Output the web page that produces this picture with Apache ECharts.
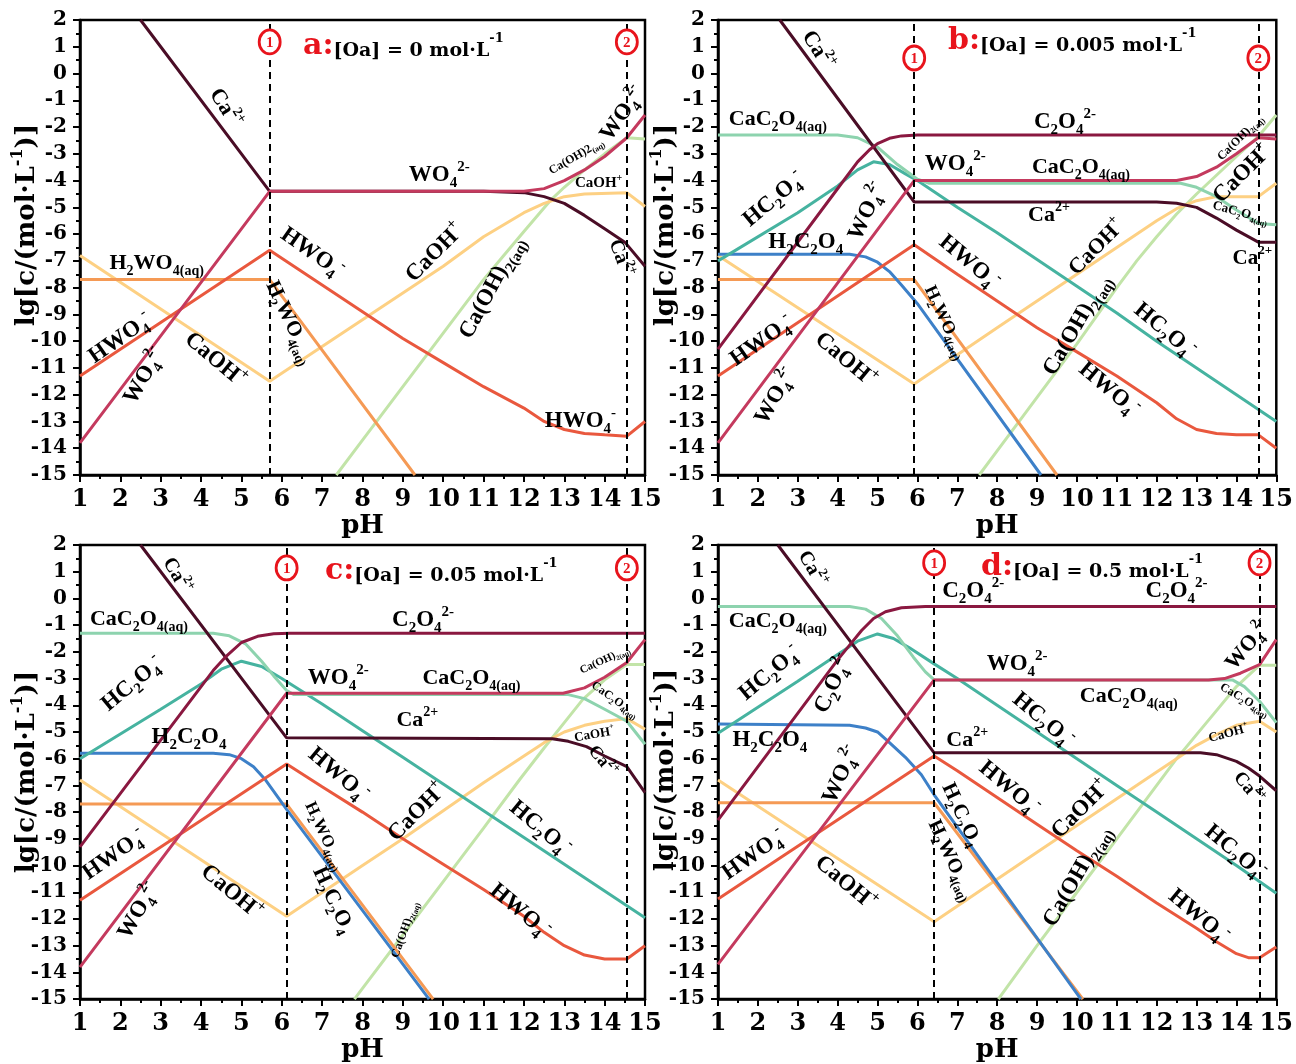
<!DOCTYPE html>
<html><head><meta charset="utf-8">
<script src="https://cdn.jsdelivr.net/npm/echarts@6/dist/echarts.min.js"></script>
<style>html,body{margin:0;padding:0;background:#fff}#c{width:1296px;height:1064px}</style>
</head><body><div id="c"></div>
<script>
const SERIF = '"Liberation Serif","Times New Roman",serif';
const WIDE = '"DejaVu Serif","Liberation Serif",serif';
const colors = {Ca:'#4a0d26', C2O4:'#8a1840', WO4:'#c43a5e', HWO4:'#e9583e', H2WO4:'#f59a55',
  CaOH:'#fdd083', CaOH2:'#c2e4a8', CaC2O4:'#8dd3ae', HC2O4:'#46b3a0', H2C2O4:'#3d80c8'};

// ---------- Panel a: [Oa] = 0 ----------
const a_dash = [5.7, 14.55];
const a_Ca = [[2.5,2],[5.7,-4.4],[11,-4.4],[12,-4.45],[12.5,-4.6],[13,-4.85],[13.5,-5.3],[14,-5.8],[14.5,-6.3],[15,-7.2]];
const a_WO4 = [[1,-13.8],[5.7,-4.4],[12,-4.4],[12.5,-4.3],[13,-4.0],[13.5,-3.6],[14,-3.1],[14.55,-2.4],[15,-1.55]];
const a_HWO4 = [[1,-11.3],[5.7,-6.6],[7,-7.9],[8,-8.9],[9,-9.9],[10,-10.8],[11,-11.7],[12,-12.5],[12.5,-13.0],[13,-13.3],[13.5,-13.45],[14,-13.5],[14.55,-13.55],[15,-13.0]];
const a_H2WO4 = [[1,-7.7],[5.7,-7.7],[9.3,-15]];
const a_CaOH = [[1,-6.8],[5.7,-11.5],[8,-9.2],[10,-7.2],[11,-6.1],[12,-5.2],[12.5,-4.85],[13,-4.6],[13.5,-4.5],[14.55,-4.45],[15,-4.97]];
const a_CaOH2 = [[7.35,-15],[8,-13.7],[9,-11.7],[10,-9.7],[11,-7.7],[11.5,-6.8],[12,-5.9],[12.65,-4.75],[13,-4.25],[13.5,-3.6],[14,-3.0],[14.55,-2.4],[15,-2.45]];
const a_labels = [
 [4.6,-1.3,'Ca^{2+}',-58,22],
 [14.45,-1.5,'WO_4^{2-}',55,23],
 [13.3,-3.1,'Ca(OH)2_{(aq)}',30,12],
 [13.85,-4.1,'CaOH^+',0,15],
 [9.9,-3.8,'WO_4^{2-}',0,23],
 [14.4,-6.9,'Ca^{2+}',-70,20],
 [6.75,-6.7,'HWO_4^-',-35,23],
 [9.8,-6.7,'CaOH^+',45,23],
 [11.2,-8.0,'Ca(OH)_{2(aq)}',62,23],
 [2.9,-7.1,'H_2WO_{4(aq)}',0,22],
 [6.2,-9.3,'H_2WO_{4(aq)}',-65,21],
 [2.0,-9.9,'HWO_4^-',35,23],
 [4.35,-10.7,'CaOH^+',-40,23],
 [2.6,-11.3,'WO_4^{2-}',60,23],
 [13.4,-13.0,'HWO_4^-',0,23]
];

// ---------- Panel b: [Oa] = 0.005 ----------
const b_dash = [5.92, 14.55];
const b_Ca = [[2.55,2],[5.92,-4.8],[12,-4.8],[12.5,-4.85],[13,-5.0],[13.5,-5.4],[14,-5.85],[14.55,-6.3],[15,-6.3]];
const b_C2O4 = [[1,-10.3],[4.1,-4.1],[4.5,-3.3],[4.8,-2.85],[5.0,-2.62],[5.3,-2.42],[5.6,-2.33],[6,-2.3],[15,-2.3]];
const b_WO4 = [[1,-13.8],[5.92,-4.0],[12.5,-4.0],[13,-3.85],[13.5,-3.5],[14,-3.0],[14.55,-2.4],[15,-2.45]];
const b_CaC2O4 = [[1,-2.3],[4.0,-2.3],[4.5,-2.4],[5,-2.75],[5.5,-3.4],[6,-3.95],[6.3,-4.1],[12.6,-4.1],[13,-4.25],[13.5,-4.6],[14,-5.1],[14.55,-5.6],[15,-5.65]];
const b_HC2O4 = [[1,-7.0],[3,-5.2],[4,-4.2],[4.5,-3.6],[4.9,-3.3],[5.3,-3.4],[5.7,-3.75],[6,-4.0],[7,-5.0],[8,-5.95],[9,-6.95],[10,-7.95],[11,-8.95],[12,-10.0],[13,-11.0],[14,-12.0],[15,-13.0]];
const b_H2C2O4 = [[1,-6.75],[4.3,-6.75],[4.7,-6.85],[5,-7.05],[5.3,-7.4],[5.6,-7.9],[6,-8.6],[9.1,-15]];
const b_H2WO4 = [[1,-7.7],[5.92,-7.7],[9.5,-15]];
const b_HWO4 = [[1,-11.3],[5.92,-6.4],[7,-7.5],[8,-8.5],[9,-9.5],[10,-10.4],[11,-11.3],[12,-12.3],[12.5,-12.9],[13,-13.3],[13.5,-13.45],[14,-13.5],[14.55,-13.5],[15,-14.0]];
const b_CaOH = [[1,-6.8],[5.92,-11.6],[8,-9.5],[10,-7.5],[11,-6.5],[12,-5.5],[12.5,-5.05],[13,-4.75],[13.5,-4.6],[14.55,-4.6],[15,-4.1]];
const b_CaOH2 = [[7.55,-15],[8,-14.1],[9,-12.1],[10,-10.1],[11,-8.0],[11.5,-7.0],[12,-6.1],[12.5,-5.25],[13,-4.5],[13.5,-3.8],[14,-3.1],[14.55,-2.35],[15,-1.55]];
const b_labels = [
 [3.5,0.86,'Ca^{2+}',-58,22],
 [2.5,-1.7,'CaC_2O_{4(aq)}',0,22],
 [9.7,-1.8,'C_2O_4^{2-}',0,23],
 [6.95,-3.4,'WO_4^{2-}',0,23],
 [10.1,-3.5,'CaC_2O_{4(aq)}',0,22],
 [14.1,-2.4,'Ca(OH)_{2(aq)}',45,12],
 [14.15,-3.75,'CaOH^+',45,23],
 [14.1,-5.2,'CaC_2O_{4(aq)}',-15,13],
 [14.4,-6.9,'Ca^{2+}',0,21],
 [9.3,-5.3,'Ca^{2+}',0,22],
 [10.5,-6.5,'CaOH^+',45,22],
 [2.4,-4.7,'HC_2O_4^-',40,23],
 [4.75,-5.15,'WO_4^{2-}',65,23],
 [3.2,-6.3,'H_2C_2O_4',0,23],
 [7.3,-7.05,'HWO_4^-',-40,23],
 [6.7,-9.3,'H_2WO_{4(aq)}',-65,18],
 [12.2,-9.6,'HC_2O_4^-',-40,23],
 [10.0,-9.4,'Ca(OH)_{2(aq)}',60,23],
 [2.1,-10.0,'HWO_4^-',35,23],
 [4.2,-10.7,'CaOH^+',-40,23],
 [2.45,-12.05,'WO_4^{2-}',60,23],
 [10.8,-11.8,'HWO_4^-',-40,23]
];

// ---------- Panel c: [Oa] = 0.05 ----------
const c_dash = [6.12, 14.55];
const c_Ca = [[2.5,2],[6.12,-5.22],[12.7,-5.25],[13.1,-5.35],[13.55,-5.55],[14,-5.9],[14.55,-6.3],[15,-7.27]];
const c_C2O4 = [[1,-9.3],[4.3,-2.7],[4.6,-2.2],[5.0,-1.65],[5.4,-1.42],[5.8,-1.32],[6.2,-1.3],[15,-1.3]];
const c_WO4 = [[1,-13.8],[6.12,-3.55],[12.97,-3.55],[13.5,-3.35],[14,-2.95],[14.55,-2.4],[15,-1.54]];
const c_CaC2O4 = [[1,-1.3],[4.3,-1.3],[4.7,-1.4],[5.1,-1.7],[5.5,-2.35],[5.8,-2.9],[6.12,-3.45],[6.3,-3.6],[13.1,-3.6],[13.5,-3.75],[14,-4.15],[14.55,-4.6],[15,-5.46]];
const c_HC2O4 = [[1,-6.0],[3,-4.15],[4,-3.2],[4.5,-2.65],[5,-2.35],[5.5,-2.55],[6,-3.0],[7,-3.95],[8,-4.95],[9,-5.95],[10,-6.95],[11,-7.95],[12,-8.95],[13,-9.95],[14,-10.95],[15,-11.95]];
const c_H2C2O4 = [[1,-5.8],[4.3,-5.8],[4.7,-5.85],[5,-6.0],[5.3,-6.3],[5.6,-6.8],[6.12,-7.9],[9.65,-15]];
const c_H2WO4 = [[1,-7.7],[6.12,-7.7],[9.75,-15]];
const c_HWO4 = [[1,-11.3],[6.12,-6.2],[7,-7.05],[8,-8.0],[9,-9.0],[10,-9.95],[11,-10.9],[12,-11.9],[12.5,-12.5],[13,-13.0],[13.5,-13.35],[14,-13.5],[14.55,-13.5],[15,-13.0]];
const c_CaOH = [[1,-6.8],[6.12,-11.9],[8,-10.0],[9,-9.0],[10,-7.95],[11,-6.9],[12,-5.9],[12.5,-5.4],[13,-5.0],[13.5,-4.75],[14,-4.6],[14.55,-4.5],[15,-4.9]];
const c_CaOH2 = [[7.8,-15],[8,-14.6],[9,-12.6],[10,-10.6],[11,-8.6],[11.9,-6.77],[12.5,-5.6],[13,-4.65],[13.46,-3.78],[14,-3.05],[14.55,-2.47],[15,-2.47]];
const c_labels = [
 [3.4,0.85,'Ca^{2+}',-60,20],
 [2.46,-0.8,'CaC_2O_{4(aq)}',0,22],
 [9.5,-0.8,'C_2O_4^{2-}',0,23],
 [2.3,-3.2,'HC_2O_4^-',40,23],
 [7.4,-3.0,'WO_4^{2-}',0,23],
 [10.7,-3.0,'CaC_2O_{4(aq)}',0,22],
 [14.0,-2.3,'Ca(OH)_{2(aq)}',25,11],
 [14.25,-3.8,'CaC_2O_{4(aq)}',-35,12],
 [13.75,-5.1,'CaOH^+',10,13],
 [13.95,-6.1,'Ca^{2+}',-50,18],
 [9.36,-4.55,'Ca^{2+}',0,22],
 [3.7,-5.2,'H_2C_2O_4',0,23],
 [7.4,-6.6,'HWO_4^-',-40,23],
 [9.36,-8.0,'CaOH^+',45,23],
 [12.4,-8.6,'HC_2O_4^-',-40,23],
 [7.06,-8.9,'H_2WO_{4(aq)}',-65,17],
 [7.27,-11.3,'H_2C_2O_4',-65,22],
 [9.05,-12.4,'Ca(OH)_{2(aq)}',70,12],
 [1.85,-9.6,'HWO_4^-',35,23],
 [4.75,-11.0,'CaOH^+',-40,23],
 [2.46,-11.7,'WO_4^{2-}',60,23],
 [11.9,-11.7,'HWO_4^-',-40,23]
];

// ---------- Panel d: [Oa] = 0.5 ----------
const d_dash = [6.42, 14.58];
const d_Ca = [[2.5,2],[6.42,-5.78],[13.1,-5.78],[13.5,-5.85],[14,-6.1],[14.3,-6.35],[14.58,-6.65],[15,-7.2]];
const d_C2O4 = [[1,-8.3],[4.0,-2.3],[4.3,-1.75],[4.6,-1.2],[4.9,-0.75],[5.2,-0.5],[5.6,-0.35],[6.2,-0.3],[15,-0.3]];
const d_WO4 = [[1,-13.7],[6.42,-3.05],[13.3,-3.05],[13.7,-3.0],[14.1,-2.8],[14.58,-2.48],[15,-1.54]];
const d_CaC2O4 = [[1,-0.3],[4.3,-0.3],[4.7,-0.4],[5.1,-0.75],[5.5,-1.4],[5.9,-2.2],[6.2,-2.75],[6.42,-3.05],[13.9,-3.05],[14.2,-3.3],[14.58,-3.85],[15,-4.65]];
const d_HC2O4 = [[1,-5.05],[3,-3.1],[4,-2.1],[4.5,-1.6],[5,-1.33],[5.4,-1.5],[5.8,-1.85],[6.42,-2.45],[7,-3.0],[8,-4.0],[9,-5.0],[10,-6.0],[11,-7.0],[12,-8.0],[13,-9.0],[14,-10.0],[15,-11.04]];
const d_H2C2O4 = [[1,-4.7],[4.3,-4.75],[4.7,-4.85],[5.0,-5.0],[5.3,-5.4],[5.7,-5.95],[6.1,-6.6],[6.42,-7.35],[10.1,-15]];
const d_H2WO4 = [[1,-7.65],[6.42,-7.65],[10.15,-15]];
const d_HWO4 = [[1,-11.25],[6.42,-5.9],[7,-6.45],[8,-7.45],[9,-8.45],[10,-9.45],[11,-10.4],[12,-11.4],[13,-12.35],[13.5,-12.85],[14,-13.3],[14.3,-13.45],[14.58,-13.45],[15,-13.05]];
const d_CaOH = [[1,-6.8],[6.42,-12.1],[9,-9.5],[10,-8.5],[11,-7.5],[12,-6.5],[12.5,-6.0],[13,-5.5],[13.5,-5.1],[14,-4.75],[14.58,-4.6],[15,-5.0]];
const d_CaOH2 = [[8.03,-15],[9,-13],[10,-11],[11,-9],[12,-7],[12.5,-6],[13,-5.1],[13.5,-4.2],[14,-3.3],[14.58,-2.5],[15,-2.5]];
const d_labels = [
 [3.36,1.1,'Ca^{2+}',-60,20],
 [7.4,0.28,'C_2O_4^{2-}',0,23],
 [12.5,0.28,'C_2O_4^{2-}',0,23],
 [2.5,-0.86,'CaC_2O_{4(aq)}',0,22],
 [2.3,-2.8,'HC_2O_4^-',40,23],
 [3.9,-3.2,'C_2O_4^{2-}',65,23],
 [8.5,-2.45,'WO_4^{2-}',0,23],
 [11.3,-3.66,'CaC_2O_{4(aq)}',0,22],
 [14.3,-1.75,'WO_4^{2-}',50,22],
 [14.2,-3.8,'CaC_2O_{4(aq)}',-30,12],
 [13.8,-5.06,'CaOH^+',15,13],
 [14.3,-7.1,'Ca^{2+}',-50,19],
 [9.15,-4.55,'HC_2O_4^-',-40,23],
 [2.3,-5.3,'H_2C_2O_4',0,23],
 [7.25,-5.3,'Ca^{2+}',0,22],
 [4.1,-6.6,'WO_4^{2-}',65,23],
 [8.3,-7.1,'HWO_4^-',-40,23],
 [10.1,-7.9,'CaOH^+',45,23],
 [7.1,-8.1,'H_2C_2O_4',-65,21],
 [6.85,-9.8,'H_2WO_{4(aq)}',-65,20],
 [13.97,-9.5,'HC_2O_4^-',-40,23],
 [10.0,-10.4,'Ca(OH)_{2(aq)}',60,23],
 [1.9,-9.6,'HWO_4^-',35,23],
 [4.2,-10.66,'CaOH^+',-40,23],
 [13.05,-11.9,'HWO_4^-',-40,23]
];

const panelKeys = ['a','b','c','d'];
const panelOa = ['0','0.005','0.05','0.5'];
const circleY = [1.18, 0.58, 1.14, 1.33];
const xRange = [1,15];
const yRange = [-15,2];
const yName = 'lg[c/(mol·L^{-1})]';

const panels = [
 {dash:a_dash, labels:a_labels, lines:{CaOH2:a_CaOH2, CaOH:a_CaOH, H2WO4:a_H2WO4, HWO4:a_HWO4, Ca:a_Ca, WO4:a_WO4}},
 {dash:b_dash, labels:b_labels, lines:{CaOH2:b_CaOH2, CaOH:b_CaOH, H2WO4:b_H2WO4, H2C2O4:b_H2C2O4, HWO4:b_HWO4, HC2O4:b_HC2O4, CaC2O4:b_CaC2O4, Ca:b_Ca, C2O4:b_C2O4, WO4:b_WO4}},
 {dash:c_dash, labels:c_labels, lines:{CaOH2:c_CaOH2, CaOH:c_CaOH, H2WO4:c_H2WO4, H2C2O4:c_H2C2O4, HWO4:c_HWO4, HC2O4:c_HC2O4, CaC2O4:c_CaC2O4, Ca:c_Ca, C2O4:c_C2O4, WO4:c_WO4}},
 {dash:d_dash, labels:d_labels, lines:{CaOH2:d_CaOH2, CaOH:d_CaOH, H2WO4:d_H2WO4, H2C2O4:d_H2C2O4, HWO4:d_HWO4, HC2O4:d_HC2O4, CaC2O4:d_CaC2O4, Ca:d_Ca, C2O4:d_C2O4, WO4:d_WO4}}
];

const grids = [
 {left:80, top:20, width:565, height:455},
 {left:718, top:20, width:562, height:455},
 {left:80, top:545, width:565, height:456},
 {left:718, top:545, width:562, height:456}
];
const titlePos = [[298,22],[943,17],[320,547],[976,543]];
const yNamePos = [[27,225],[666,225],[27,772],[666,770]];

function toRich(str){
  let out='', buf='', i=0;
  const flush=()=>{ if(buf){ out+='{n|'+buf+'}'; buf=''; } };
  while(i<str.length){
    const ch=str[i];
    if(ch==='_'||ch==='^'){
      flush();
      let tok='';
      if(str[i+1]==='{'){ const j=str.indexOf('}',i+2); tok=str.slice(i+2,j); i=j+1; }
      else { tok=str[i+1]; i+=2; }
      out+='{'+(ch==='_'?'b':'p')+'|'+tok+'}';
    } else { buf+=ch; i++; }
  }
  flush();
  return out;
}
function richStyles(s, fam){
  const base = {fontFamily:fam||SERIF, fontWeight:'bold', fill:'#000'};
  const sm = Math.round(s*0.64);
  return {
    n: Object.assign({fontSize:s, lineHeight:Math.round(s*1.35)}, base),
    b: Object.assign({fontSize:sm, lineHeight:sm, verticalAlign:'bottom'}, base),
    p: Object.assign({fontSize:sm, lineHeight:sm, verticalAlign:'top'}, base)
  };
}

const order = ['CaOH2','CaOH','H2WO4','H2C2O4','HWO4','HC2O4','CaC2O4','Ca','C2O4','WO4'];
const series = [], xAxis = [], yAxis = [], title = [], graphic = [];
const axisFont = {fontFamily:WIDE, fontWeight:'bold', color:'#000'};

panels.forEach((p, i) => {
  xAxis.push({
    type:'value', gridIndex:i, min:xRange[0], max:xRange[1], interval:1,
    name:'pH', nameLocation:'middle', nameGap:37,
    nameTextStyle:Object.assign({fontSize:26}, axisFont),
    axisLine:{onZero:false, lineStyle:{color:'#000', width:2.5}},
    axisTick:{show:true, length:7, lineStyle:{color:'#000', width:2}},
    minorTick:{show:true, splitNumber:2, length:4, lineStyle:{color:'#000', width:2}},
    axisLabel:Object.assign({fontSize:24, margin:13}, axisFont),
    splitLine:{show:false}
  });
  yAxis.push({
    type:'value', gridIndex:i, min:yRange[0], max:yRange[1], interval:1,
    axisLine:{onZero:false, lineStyle:{color:'#000', width:2.5}},
    axisTick:{show:true, length:7, lineStyle:{color:'#000', width:2}},
    minorTick:{show:true, splitNumber:2, length:4, lineStyle:{color:'#000', width:2}},
    axisLabel:Object.assign({fontSize:20, margin:13}, axisFont),
    splitLine:{show:false}
  });
  graphic.push({
    type:'text', x:yNamePos[i][0], y:yNamePos[i][1], rotation:Math.PI/2, silent:true,
    style:{text:toRich(yName), rich:(()=>{const r=richStyles(26, WIDE); r.p.fontSize=16; r.p.lineHeight=16; return r;})(),
      align:'center', verticalAlign:'middle'}
  });
  title.push({
    left:titlePos[i][0], top:titlePos[i][1],
    text:'{r|'+panelKeys[i]+':}{t|[Oa] = '+panelOa[i]+' mol·L}{s|-1}',
    textStyle:{rich:{
      r:{fontFamily:WIDE, fontWeight:'bold', fontSize:30, lineHeight:34, color:'#e8141c', verticalAlign:'bottom'},
      t:{fontFamily:WIDE, fontWeight:'bold', fontSize:19, lineHeight:24, color:'#000', verticalAlign:'bottom'},
      s:{fontFamily:WIDE, fontWeight:'bold', fontSize:13, lineHeight:13, color:'#000', verticalAlign:'top', padding:[5,0,0,0]}
    }}
  });
  order.forEach(k => {
    if(!p.lines[k]) return;
    const s = {type:'line', name:k, xAxisIndex:i, yAxisIndex:i, data:p.lines[k], showSymbol:false, symbol:'none',
      lineStyle:{color:colors[k], width:3}, itemStyle:{color:colors[k]}, silent:true, z:2, animation:false};
    if(k==='WO4'){
      s.markLine = {silent:true, symbol:'none', animation:false, label:{show:false},
        lineStyle:{type:[7,5], color:'#000', width:2},
        data:p.dash.map(v=>({xAxis:v}))};
    }
    series.push(s);
  });
  const labs = p.labels;
  series.push({
    type:'custom', xAxisIndex:i, yAxisIndex:i, silent:true, z:5, animation:false,
    data:labs.map(l=>[l[0], l[1]]),
    renderItem:(params, api)=>{
      const l = labs[params.dataIndex];
      const pt = api.coord([api.value(0), api.value(1)]);
      return {type:'text', x:pt[0], y:pt[1], rotation:l[3]*Math.PI/180,
        style:{text:toRich(l[2]), rich:richStyles(l[4]), align:'center', verticalAlign:'middle'}};
    }
  });
  const circ = [[p.dash[0], circleY[i], '1'], [p.dash[1], circleY[i], '2']];
  series.push({
    type:'custom', xAxisIndex:i, yAxisIndex:i, silent:true, z:6, animation:false,
    data:circ.map(c=>[c[0], c[1]]),
    renderItem:(params, api)=>{
      const pt = api.coord([api.value(0), api.value(1)]);
      return {type:'group', x:pt[0], y:pt[1], children:[
        {type:'ellipse', shape:{cx:0, cy:0, rx:10.5, ry:12}, style:{fill:'#fff', stroke:'#e8141c', lineWidth:2.8}},
        {type:'text', style:{text:circ[params.dataIndex][2], x:0, y:1, align:'center', verticalAlign:'middle',
          fill:'#e8141c', font:'bold 15px "Liberation Serif", serif'}}
      ]};
    }
  });
});

const chart = echarts.init(document.getElementById('c'), null, {renderer:'canvas'});
chart.setOption({
  animation:false,
  backgroundColor:'#fff',
  title:title,
  graphic:graphic,
  grid:grids.map(g=>Object.assign({show:true, borderColor:'#000', borderWidth:2.5, backgroundColor:'transparent', containLabel:false}, g)),
  xAxis:xAxis, yAxis:yAxis, series:series
});
</script></body></html>
